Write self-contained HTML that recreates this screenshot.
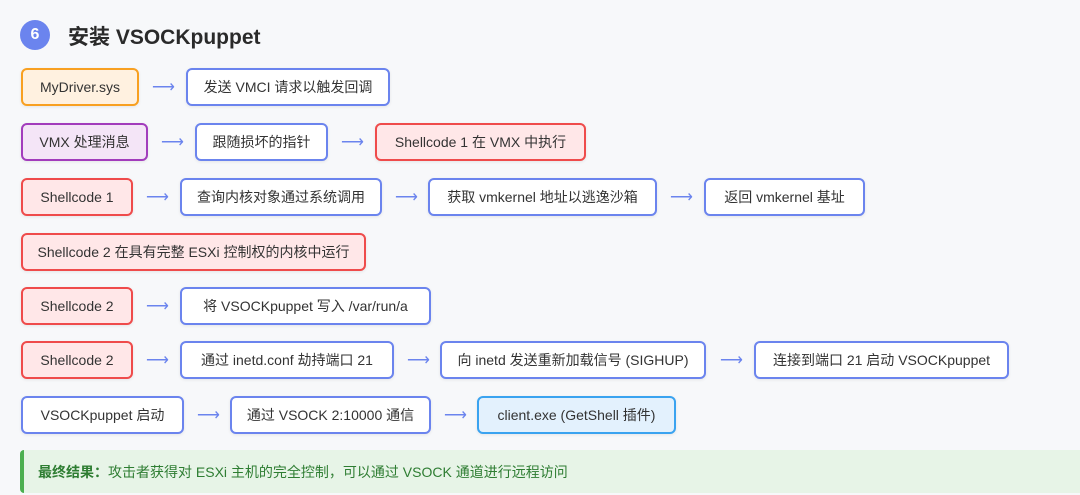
<!DOCTYPE html>
<html><head><meta charset="utf-8"><style>
body{margin:0;width:1080px;height:495px;background:#f7f8fa;font-family:"Liberation Sans","Noto Sans CJK SC",sans-serif;position:relative;overflow:hidden;color:#333}
.b{position:absolute;height:38px;border:2px solid #6b84ee;border-radius:6px;background:#fff;box-sizing:border-box;display:flex;align-items:center;justify-content:center;font-size:14px;white-space:nowrap;box-shadow:0 1px 3px rgba(0,0,0,.08)}
.o{border-color:#f8a021;background:#fff1e0}
.p{border-color:#a23cbc;background:#f4e5f7}
.r{border-color:#ef4b4b;background:#ffe7e8}
.c{border-color:#3aa3f0;background:#e3f1fd}
.a{position:absolute;color:#6b84ee;font-size:16px;line-height:16px}
</style></head><body>
<div style="position:absolute;left:20px;top:20px;width:30px;height:30px;border-radius:50%;background:#6b84ee;color:#fff;font-weight:bold;font-size:16px;display:flex;align-items:center;justify-content:center">6</div>
<div style="position:absolute;left:68px;top:21px;font-size:21px;font-weight:bold;color:#2a2a2a">安装 VSOCKpuppet</div>

<div class="b o" style="left:21px;top:68px;width:118px">MyDriver.sys</div>
<div class="a" style="left:152px;top:80px">⟶</div>
<div class="b" style="left:186px;top:68px;width:204px">发送 VMCI 请求以触发回调</div>

<div class="b p" style="left:21px;top:123px;width:127px">VMX 处理消息</div>
<div class="a" style="left:161px;top:135px">⟶</div>
<div class="b" style="left:195px;top:123px;width:133px">跟随损坏的指针</div>
<div class="a" style="left:341px;top:135px">⟶</div>
<div class="b r" style="left:375px;top:123px;width:211px">Shellcode 1 在 VMX 中执行</div>

<div class="b r" style="left:21px;top:178px;width:112px">Shellcode 1</div>
<div class="a" style="left:146px;top:190px">⟶</div>
<div class="b" style="left:180px;top:178px;width:202px">查询内核对象通过系统调用</div>
<div class="a" style="left:395px;top:190px">⟶</div>
<div class="b" style="left:428px;top:178px;width:229px">获取 vmkernel 地址以逃逸沙箱</div>
<div class="a" style="left:670px;top:190px">⟶</div>
<div class="b" style="left:704px;top:178px;width:161px">返回 vmkernel 基址</div>

<div class="b r" style="left:21px;top:233px;width:345px">Shellcode 2 在具有完整 ESXi 控制权的内核中运行</div>

<div class="b r" style="left:21px;top:287px;width:112px">Shellcode 2</div>
<div class="a" style="left:146px;top:299px">⟶</div>
<div class="b" style="left:180px;top:287px;width:251px">将 VSOCKpuppet 写入 /var/run/a</div>

<div class="b r" style="left:21px;top:341px;width:112px">Shellcode 2</div>
<div class="a" style="left:146px;top:353px">⟶</div>
<div class="b" style="left:180px;top:341px;width:214px">通过 inetd.conf 劫持端口 21</div>
<div class="a" style="left:407px;top:353px">⟶</div>
<div class="b" style="left:440px;top:341px;width:266px">向 inetd 发送重新加载信号 (SIGHUP)</div>
<div class="a" style="left:720px;top:353px">⟶</div>
<div class="b" style="left:754px;top:341px;width:255px">连接到端口 21 启动 VSOCKpuppet</div>

<div class="b" style="left:21px;top:396px;width:163px">VSOCKpuppet 启动</div>
<div class="a" style="left:197px;top:408px">⟶</div>
<div class="b" style="left:230px;top:396px;width:201px">通过 VSOCK 2:10000 通信</div>
<div class="a" style="left:444px;top:408px">⟶</div>
<div class="b c" style="left:477px;top:396px;width:199px">client.exe (GetShell 插件)</div>

<div style="position:absolute;left:20px;top:450px;width:1070px;height:43px;background:#e7f4e7;border-left:4px solid #4caf50;border-radius:4px;box-sizing:border-box;padding-left:14px;display:flex;align-items:center;font-size:14px;color:#2e7d32"><b>最终结果：</b>攻击者获得对 ESXi 主机的完全控制，可以通过 VSOCK 通道进行远程访问</div>
</body></html>
